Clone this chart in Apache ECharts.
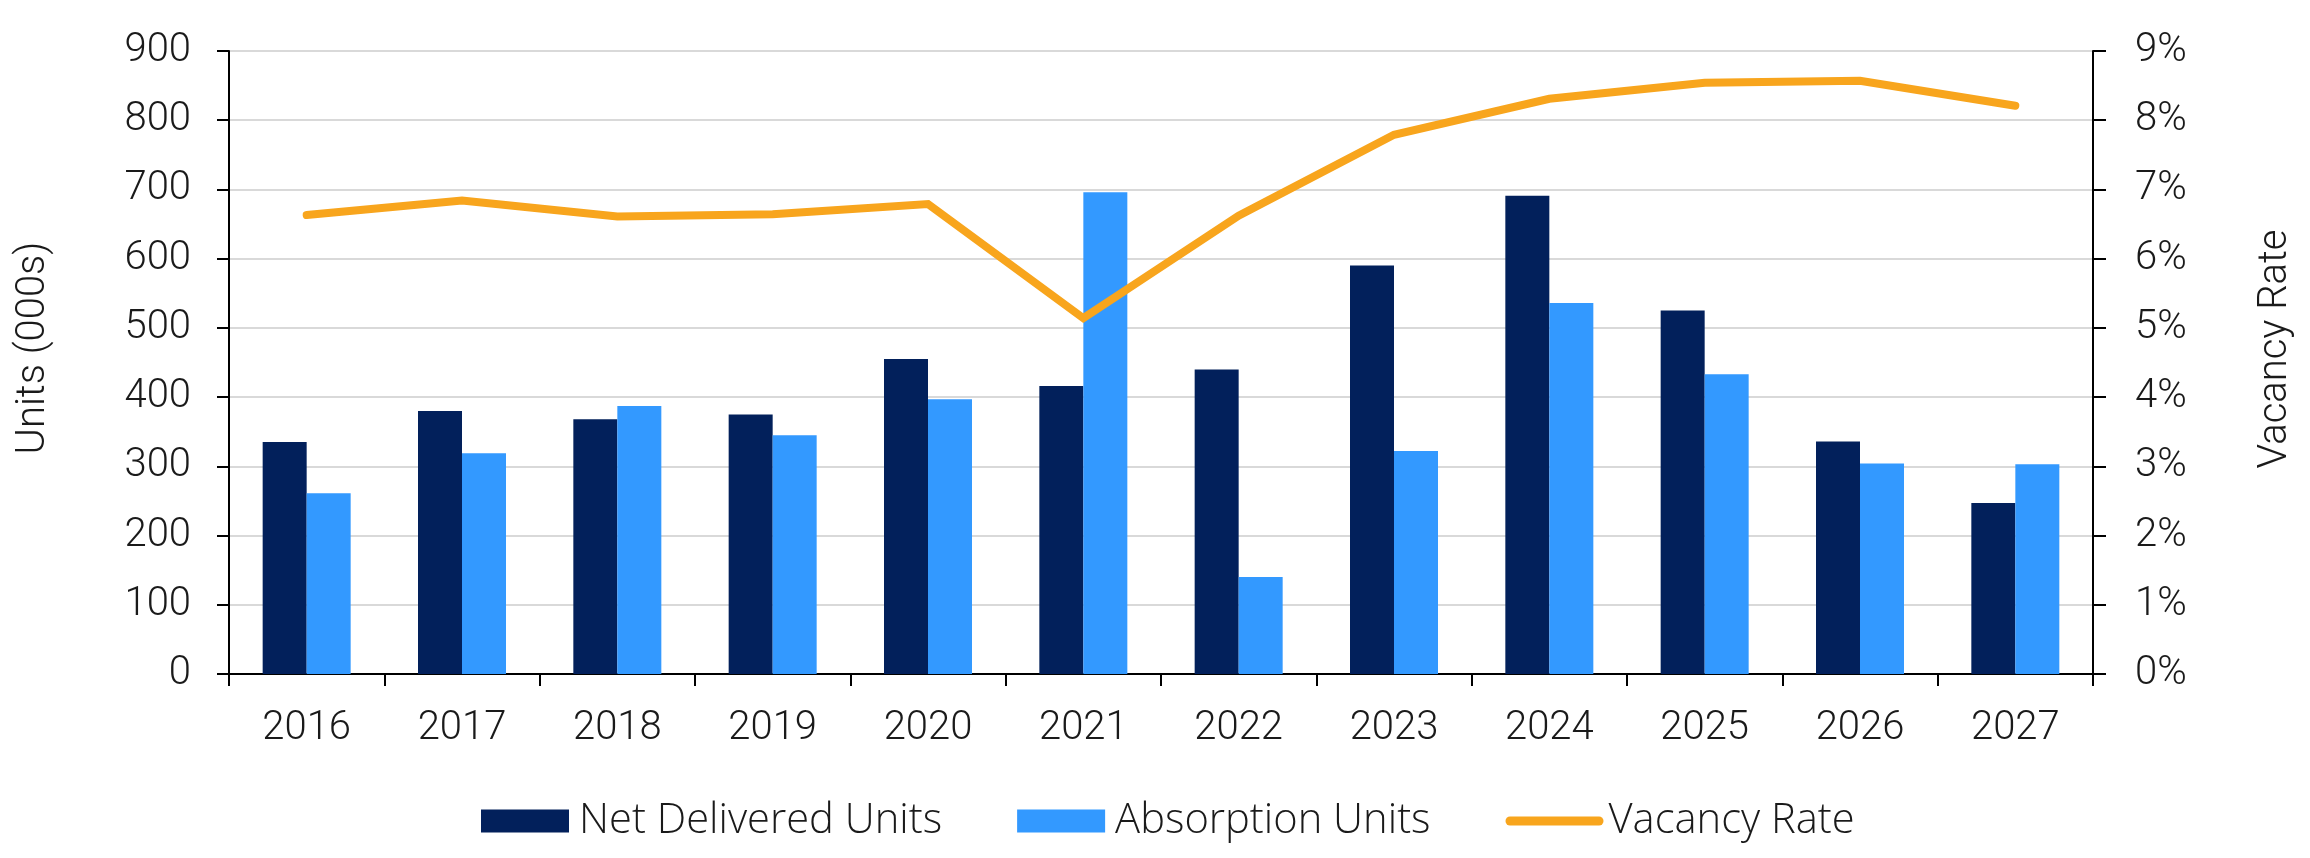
<!DOCTYPE html>
<html>
<head>
<meta charset="utf-8">
<script src="https://cdn.jsdelivr.net/npm/echarts@6/dist/echarts.min.js"></script>
<style>
html,body{margin:0;padding:0;background:#fff;}
#chart{width:2310px;height:858px;}
</style>
</head>
<body>
<div id="chart"></div>
<script>
const years = ['2016','2017','2018','2019','2020','2021','2022','2023','2024','2025','2026','2027'];
const netDelivered = [335, 380, 368, 375, 455, 416, 440, 590, 691, 525, 336, 247];
const absorption = [261, 319, 387, 345, 397, 696, 140, 322, 536, 433, 304, 303];
const vacancyRate = [6.63, 6.84, 6.61, 6.64, 6.79, 5.14, 6.62, 7.79, 8.31, 8.54, 8.57, 8.21];
const leftTicks = { min: 0, max: 900, interval: 100 };
const rightTicks = { min: 0, max: 9, interval: 1 };

const FONT = 'Roboto';
const TXT = '#1a1a1a';
const NAVY = '#02205B';
const BLUE = '#3399FF';
const ORANGE = '#F8A51D';

const chart = echarts.init(document.getElementById('chart'), null, { renderer: 'canvas' });
const axisLineStyle = { color: '#000', width: 2 };
const labelStyle = { color: TXT, fontFamily: FONT, fontWeight: 300, fontSize: 40 };

chart.setOption({
  animation: false,
  backgroundColor: '#fff',
  textStyle: { fontFamily: FONT },
  grid: { left: 229, right: 217, top: 51, bottom: 184, containLabel: false },
  legend: {
    left: 476,
    top: 795,
    itemWidth: 98,
    itemHeight: 23,
    itemGap: 75,
    textStyle: { color: TXT, fontFamily: 'Open Sans', fontWeight: 300, fontSize: 41.7 },
    data: [
      { name: 'Net Delivered Units', icon: 'path://M0,0 H88 V23 H0 Z', itemStyle: { color: NAVY } },
      { name: 'Absorption Units', icon: 'path://M0,0 H88 V23 H0 Z', itemStyle: { color: BLUE } },
      { name: 'Vacancy Rate', icon: 'path://M4.5,0 H93.5 A4.5,4.5 0 0 1 93.5,9 H4.5 A4.5,4.5 0 0 1 4.5,0 Z', itemStyle: { color: ORANGE } }
    ]
  },
  xAxis: {
    type: 'category',
    data: years,
    boundaryGap: true,
    axisLine: { show: true, lineStyle: axisLineStyle },
    axisTick: { show: true, length: 12, alignWithLabel: false, lineStyle: axisLineStyle },
    axisLabel: Object.assign({ margin: 35, interval: 0 }, labelStyle),
    splitLine: { show: false }
  },
  yAxis: [
    {
      type: 'value',
      position: 'left',
      min: leftTicks.min, max: leftTicks.max, interval: leftTicks.interval,
      axisLine: { show: true, lineStyle: axisLineStyle },
      axisTick: { show: true, length: 12, lineStyle: axisLineStyle },
      axisLabel: Object.assign({ margin: 38 }, labelStyle),
      splitLine: { show: true, lineStyle: { color: '#d9d9d9', width: 2 } }
    },
    {
      type: 'value',
      position: 'right',
      min: rightTicks.min, max: rightTicks.max, interval: rightTicks.interval,
      axisLine: { show: true, lineStyle: axisLineStyle },
      axisTick: { show: true, length: 13, lineStyle: axisLineStyle },
      axisLabel: Object.assign({ margin: 42, formatter: '{value}%' }, labelStyle),
      splitLine: { show: false }
    }
  ],
  graphic: [
    {
      type: 'text', x: 34, y: 348, rotation: Math.PI / 2,
      style: { text: 'Units (000s)', fill: TXT, font: '300 40px Roboto', textAlign: 'center', textVerticalAlign: 'middle' }
    },
    {
      type: 'text', x: 2276, y: 349, rotation: Math.PI / 2,
      style: { text: 'Vacancy Rate', fill: TXT, font: '300 40px Roboto', textAlign: 'center', textVerticalAlign: 'middle' }
    }
  ],
  series: [
    {
      name: 'Net Delivered Units', type: 'bar', yAxisIndex: 0,
      data: netDelivered, barWidth: 44, barGap: '0%',
      itemStyle: { color: NAVY }, z: 2
    },
    {
      name: 'Absorption Units', type: 'bar', yAxisIndex: 0,
      data: absorption, barWidth: 44, barGap: '0%',
      itemStyle: { color: BLUE }, z: 2
    },
    {
      name: 'Vacancy Rate', type: 'line', yAxisIndex: 1,
      data: vacancyRate, symbol: 'none', showSymbol: false,
      lineStyle: { color: ORANGE, width: 8, cap: 'round', join: 'miter' },
      itemStyle: { color: ORANGE }, z: 5
    }
  ]
});
</script>
</body>
</html>
